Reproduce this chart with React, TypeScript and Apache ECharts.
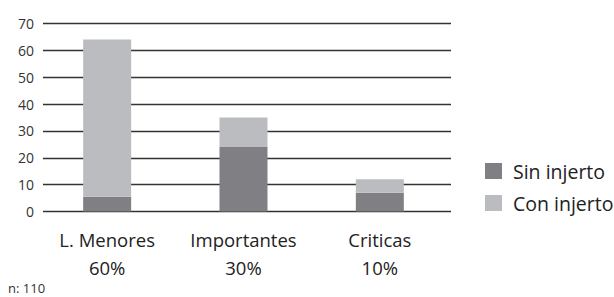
import React, { useEffect, useRef } from "react";
import * as echarts from "echarts";

const categories = ["L. Menores\n60%", "Importantes\n30%", "Criticas\n10%"];
const sinInjerto = [5.5, 24, 7];
const conInjerto = [58.5, 11, 5];
const yMax = 70;
const yInterval = 10;
const note = "n: 110";

export default function App() {
  const ref = useRef<HTMLDivElement>(null);
  useEffect(() => {
    if (!ref.current) return;
    const chart = echarts.init(ref.current, undefined, { renderer: "svg" });
    const font = "Open Sans";
    chart.setOption({
      animation: false,
      backgroundColor: "#ffffff",
      grid: [
        { left: 43, right: 163, top: 23.5, bottom: 85.5, containLabel: false },
        { left: 39, right: 166, top: 23.5, bottom: 85.5, containLabel: false },
      ],
      legend: {
        orient: "vertical",
        left: 480,
        top: 155,
        itemWidth: 17,
        itemHeight: 16,
        itemGap: 10,
        icon: "rect",
        textStyle: {
          fontSize: 19.5,
          lineHeight: 22,
          color: "#222",
          fontFamily: font,
          padding: [0, 0, 0, 6],
        },
        data: ["Sin injerto", "Con injerto"],
      },
      xAxis: [
        {
          type: "category",
          gridIndex: 0,
          data: categories,
          axisLine: { show: false },
          axisTick: { show: false },
          axisLabel: { show: false },
        },
        {
          type: "category",
          gridIndex: 1,
          data: categories,
          axisLine: { show: false },
          axisTick: { show: false },
          axisLabel: {
            interval: 0,
            fontSize: 18.5,
            lineHeight: 28,
            color: "#222",
            fontFamily: font,
            margin: 14,
          },
        },
      ],
      yAxis: [
        {
          type: "value",
          gridIndex: 0,
          min: 0,
          max: yMax,
          interval: yInterval,
          axisLine: { show: false },
          axisTick: { show: false },
          axisLabel: { fontSize: 14, color: "#333", fontFamily: font, margin: 9 },
          splitLine: { lineStyle: { color: "#333", width: 1.3 } },
        },
        {
          type: "value",
          gridIndex: 1,
          min: 0,
          max: yMax,
          interval: yInterval,
          axisLine: { show: false },
          axisTick: { show: false },
          axisLabel: { show: false },
          splitLine: { show: false },
        },
      ],
      graphic: [
        {
          type: "text",
          left: 8,
          top: 281,
          style: { text: note, fontSize: 13, fill: "#333", fontFamily: font },
        },
      ],
      series: [
        {
          name: "Sin injerto",
          type: "bar",
          stack: "total",
          xAxisIndex: 1,
          yAxisIndex: 1,
          data: sinInjerto,
          barWidth: 48,
          itemStyle: { color: "#808084" },
        },
        {
          name: "Con injerto",
          type: "bar",
          stack: "total",
          xAxisIndex: 1,
          yAxisIndex: 1,
          data: conInjerto,
          barWidth: 48,
          itemStyle: { color: "#bbbcbf" },
        },
      ],
    });
    return () => chart.dispose();
  }, []);
  return <div ref={ref} style={{ width: 614, height: 297, position: "absolute", left: 0, top: 0 }} />;
}
